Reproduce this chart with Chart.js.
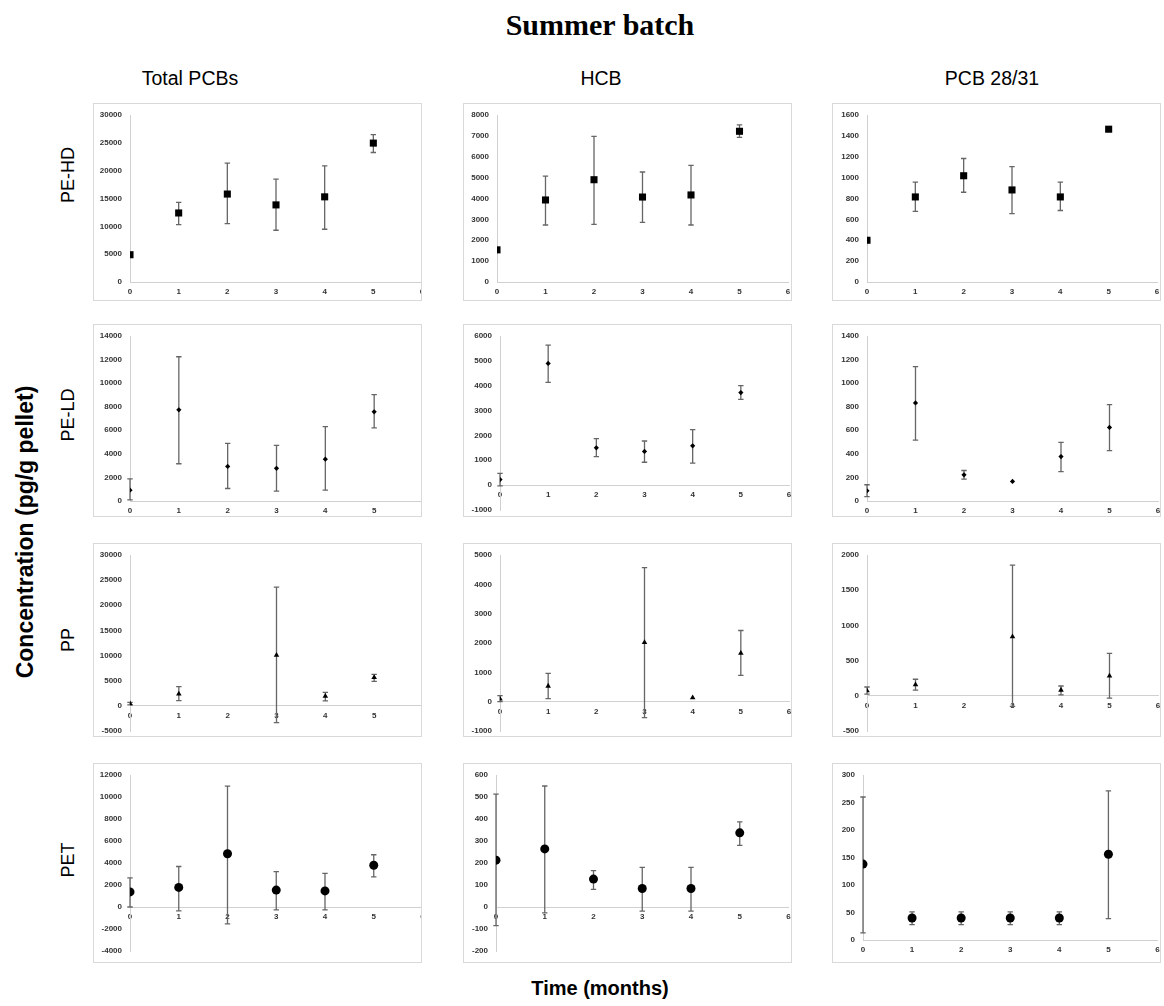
<!DOCTYPE html>
<html>
<head>
<meta charset="utf-8">
<script src="https://cdn.jsdelivr.net/npm/chart.js@4"></script>
<style>
  html, body { margin:0; padding:0; background:#fff; }
  body { width:1164px; height:1006px; position:relative; overflow:hidden; font-family:"Liberation Sans", Arial, sans-serif; }
  .title { position:absolute; left:18px; width:1164px; top:8px; text-align:center; font-family:"Liberation Serif", serif; font-weight:bold; font-size:30px; color:#000; }
  .colh { position:absolute; top:67px; width:330px; text-align:center; font-size:19.5px; color:#000; }
  .rowh { position:absolute; font-size:18px; color:#000; transform:rotate(-90deg); transform-origin:center center; white-space:nowrap; text-align:center; width:120px; height:24px; line-height:24px; }
  .ytitle { position:absolute; font-size:23px; font-weight:bold; color:#000; transform:rotate(-90deg); white-space:nowrap; text-align:center; width:400px; height:28px; line-height:28px; left:-175px; top:518px; }
  .xtitle { position:absolute; top:977px; left:0; width:1200px; text-align:center; font-size:20px; font-weight:bold; color:#000; }
  .panel { position:absolute; border:1px solid #d9d9d9; background:#fff; overflow:hidden; }
  .panel canvas { display:block; }
</style>
</head>
<body>
<div class="title">Summer batch</div>
<div id="labels"></div>
<div class="ytitle">Concentration (pg/g pellet)</div>
<div class="xtitle">Time (months)</div>
<div id="panels"></div>
<script>
// ---------------- DATA ----------------
const months = [0, 1, 2, 3, 4, 5];
const materials = ['PE-HD', 'PE-LD', 'PP', 'PET'];
const compounds = ['Total PCBs', 'HCB', 'PCB 28/31'];

// PE-HD
const peHdTotal   = [4900, 12400, 15800, 13850, 15300, 24950];
const peHdTotalLo = [null, 10300, 10500, 9300, 9480, 23260];
const peHdTotalHi = [null, 14300, 21350, 18490, 20870, 26480];
const peHdHcb     = [1540, 3930, 4900, 4070, 4170, 7220];
const peHdHcbLo   = [null, 2730, 2760, 2860, 2730, 6930];
const peHdHcbHi   = [null, 5070, 6980, 5270, 5590, 7530];
const peHdPcb     = [400, 815, 1018, 882, 815, 1464];
const peHdPcbLo   = [null, 676, 860, 656, 685, null];
const peHdPcbHi   = [null, 957, 1183, 1105, 957, null];

// PE-LD
const peLdTotal   = [920, 7740, 2930, 2770, 3550, 7570];
const peLdTotalLo = [90, 3160, 1060, 840, 920, 6200];
const peLdTotalHi = [1870, 12240, 4890, 4720, 6310, 9030];
const peLdHcb     = [224, 4895, 1500, 1355, 1580, 3724];
const peLdHcbLo   = [-30, 4132, 1145, 921, 882, 3447];
const peLdHcbHi   = [474, 5632, 1868, 1776, 2237, 4000];
const peLdPcb     = [87, 832, 222, 166, 377, 624];
const peLdPcbLo   = [37, 517, 186, null, 250, 427];
const peLdPcbHi   = [138, 1141, 259, null, 498, 818];

// PP
const ppTotal     = [460, 2370, null, 10070, 1910, 5660];
const ppTotalLo   = [200, 1050, null, -3350, 990, 4870];
const ppTotalHi   = [700, 3820, null, 23620, 2700, 6250];
const ppHcb       = [91, 533, null, 2018, 136, 1655];
const ppHcbLo     = [0, 102, null, -544, null, 896];
const ppHcbHi     = [204, 964, null, 4569, null, 2426];
const ppPcb       = [72, 158, null, 839, 82, 283];
const ppPcbLo     = [24, 82, null, -150, 14, -34];
const ppPcbHi     = [125, 235, null, 1856, 139, 604];

// PET
const petTotal    = [1370, 1780, 4840, 1540, 1460, 3800];
const petTotalLo  = [0, -360, -1540, -270, -270, 2730];
const petTotalHi  = [2640, 3680, 10990, 3210, 3060, 4750];
const petHcb      = [213, 264, 127, 84, 84, 337];
const petHcbLo    = [-85, -27, 80, -19, -19, 280];
const petHcbHi    = [513, 550, 165, 180, 180, 387];
const petPcb      = [138, 40, 40, 40, 40, 156];
const petPcbLo    = [13, 28, 28, 28, 28, 39];
const petPcbHi    = [260, 51, 51, 51, 51, 271];

// y-axis tick ranges (rows = materials, cols = compounds)
const yMin  = [[0, 0, 0], [0, -1000, 0], [-5000, -1000, -500], [-4000, -200, 0]];
const yMax  = [[30000, 8000, 1600], [14000, 6000, 1400], [30000, 5000, 2000], [12000, 600, 300]];
const yStep = [[5000, 1000, 200], [2000, 1000, 200], [5000, 1000, 500], [2000, 100, 50]];
const xTicksMin = 0, xTicksMax = 6;

// ---------------- STYLE / LAYOUT ----------------
const series = [
  [[peHdTotal, peHdTotalLo, peHdTotalHi], [peHdHcb, peHdHcbLo, peHdHcbHi], [peHdPcb, peHdPcbLo, peHdPcbHi]],
  [[peLdTotal, peLdTotalLo, peLdTotalHi], [peLdHcb, peLdHcbLo, peLdHcbHi], [peLdPcb, peLdPcbLo, peLdPcbHi]],
  [[ppTotal, ppTotalLo, ppTotalHi], [ppHcb, ppHcbLo, ppHcbHi], [ppPcb, ppPcbLo, ppPcbHi]],
  [[petTotal, petTotalLo, petTotalHi], [petHcb, petHcbLo, petHcbHi], [petPcb, petPcbLo, petPcbHi]]
];
const rowMarker = [
  { style: 'rect', radius: 5 },
  { style: 'rectRot', radius: 2.6 },
  { style: 'triangle', radius: 3.2 },
  { style: 'circle', radius: 4.5 }
];
const colLeft = [93, 463, 832];
const colWidth = 329;
const rowTop = [103, 324, 543, 763];
const rowHeight = [198, 193, 194, 200];
const rowLabelY = [175, 415, 640, 860];
const colHeadX = [190, 601, 992];
// bottom padding: [for zero-min panels, for negative-min panels]
const rowPadBottom = [[18, 6], [15, 6], [14, 5], [22, 11]];
const colPadLeft = [5, 7, 8];
const colCanvasExtra = [6, 2, 2];   // plot runs slightly past the frame (clipped), as in the original

const labels = document.getElementById('labels');
compounds.forEach((c, j) => {
  const d = document.createElement('div');
  d.className = 'colh'; d.textContent = c;
  d.style.left = (colHeadX[j] - 165) + 'px';
  labels.appendChild(d);
});
materials.forEach((m, i) => {
  const d = document.createElement('div');
  d.className = 'rowh'; d.textContent = m;
  d.style.left = (68 - 60) + 'px';
  d.style.top = (rowLabelY[i] - 12) + 'px';
  labels.appendChild(d);
});

const errorBars = {
  id: 'errorBars',
  beforeDatasetsDraw(chart) {
    const { ctx, scales: { x, y } } = chart;
    const pts = chart.data.datasets[0].data;
    ctx.save();
    ctx.strokeStyle = '#666';
    ctx.lineWidth = 1.3;
    pts.forEach(p => {
      if (p.lo == null || p.hi == null) return;
      const px = x.getPixelForValue(p.x);
      const y1 = y.getPixelForValue(p.lo);
      const y2 = y.getPixelForValue(p.hi);
      ctx.beginPath();
      ctx.moveTo(px, y1); ctx.lineTo(px, y2);
      ctx.moveTo(px - 2.7, y1); ctx.lineTo(px + 2.7, y1);
      ctx.moveTo(px - 2.7, y2); ctx.lineTo(px + 2.7, y2);
      ctx.stroke();
    });
    ctx.restore();
  }
};

const tickFont = { family: 'Liberation Sans', size: 8, weight: 'bold' };
const plainNum = v => String(v);
const measureCtx = document.createElement('canvas').getContext('2d');
measureCtx.font = 'bold 8px "Liberation Sans"';
const panels = document.getElementById('panels');

for (let i = 0; i < 4; i++) {
  for (let j = 0; j < 3; j++) {
    const box = document.createElement('div');
    box.className = 'panel';
    box.style.left = colLeft[j] + 'px';
    box.style.top = rowTop[i] + 'px';
    box.style.width = (colWidth - 2) + 'px';
    box.style.height = (rowHeight[i] - 2) + 'px';
    const cv = document.createElement('canvas');
    cv.width = colWidth - 2 + colCanvasExtra[j]; cv.height = rowHeight[i] - 2;
    box.appendChild(cv);
    panels.appendChild(box);

    const [mean, lo, hi] = series[i][j];
    const pts = [];
    months.forEach((m, k) => {
      if (mean[k] == null) return;
      pts.push({ x: m, y: mean[k], lo: lo[k], hi: hi[k] });
    });
    const negative = yMin[i][j] < 0;
    const yLabelW = Math.max(
      measureCtx.measureText(String(yMin[i][j])).width,
      measureCtx.measureText(String(yMax[i][j])).width
    );

    new Chart(cv, {
      type: 'scatter',
      data: {
        datasets: [{
          data: pts,
          pointStyle: rowMarker[i].style,
          pointRadius: rowMarker[i].radius,
          backgroundColor: '#000',
          borderColor: '#000',
          borderWidth: 0,
          showLine: false
        }]
      },
      options: {
        responsive: false,
        animation: false,
        events: [],
        layout: { padding: { left: colPadLeft[j], right: 0, top: 11, bottom: rowPadBottom[i][negative ? 1 : 0] } },
        plugins: { legend: { display: false }, tooltip: { enabled: false } },
        scales: {
          x: {
            type: 'linear',
            position: { y: 0 },
            min: xTicksMin, max: xTicksMax,
            grid: { display: false, drawTicks: false },
            border: { color: '#d0d0d0', width: 1 },
            ticks: { stepSize: 1, font: tickFont, color: '#333', padding: 5, maxRotation: 0, callback: plainNum },
            afterFit: s => { s.paddingLeft = 0; s.paddingRight = 0; s.paddingTop = 0; s.paddingBottom = 0; }
          },
          y: {
            position: 'left',
            min: yMin[i][j], max: yMax[i][j],
            grid: { display: false, drawTicks: false },
            border: { color: '#d0d0d0', width: 1 },
            ticks: { stepSize: yStep[i][j], font: tickFont, color: '#333', padding: 8, callback: plainNum },
            afterFit: s => { s.width = Math.ceil(yLabelW) + 8; s.paddingTop = 0; s.paddingBottom = 0; s.paddingLeft = 0; s.paddingRight = 0; }
          }
        }
      },
      plugins: [errorBars]
    });
  }
}
</script>
</body>
</html>
